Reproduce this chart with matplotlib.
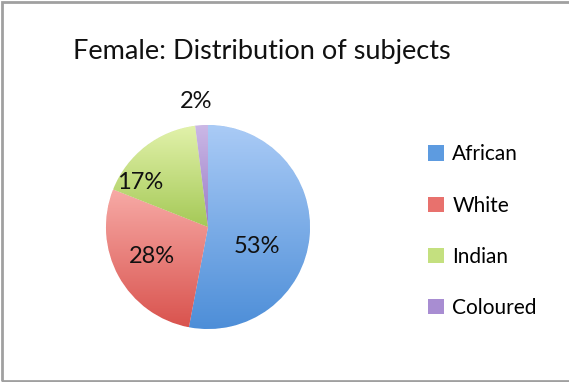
import numpy as np
import matplotlib
matplotlib.use("Agg")
import matplotlib.pyplot as plt
from matplotlib.colors import LinearSegmentedColormap
from matplotlib.patches import Patch, Rectangle

plt.rcParams['font.family'] = ['Lato', 'DejaVu Sans']

# Data
groups = ['African', 'White', 'Indian', 'Coloured']
shares = [53, 28, 17, 2]

# Gradient fill per slice (top colour, bottom colour) and legend swatch colour
top_cols = ['#aacbf6', '#f7aaa6', '#e2f2ab', '#cbb8e6']
bot_cols = ['#4d8ed8', '#d9534e', '#a5c957', '#9a7cc6']
key_cols = ['#5d9be0', '#e8716d', '#c4e07f', '#a88dd2']

# label placement: radial distance and angular nudge (deg) from slice middle
lab_dist = [0.52, 0.62, 0.79, 1.24]
lab_nudge = [-16.6, -1.0, 19.0, 1.8]

fig = plt.figure(figsize=(5.69, 3.82), dpi=100)

# frame around the chart area
fig.patches.append(Rectangle((2 / 569, 1.5 / 382), 1.2, 1 - 3.5 / 382,
                             transform=fig.transFigure, fill=False,
                             edgecolor='#a0a0a0', linewidth=2.0))

cx, cy, r_px = 208, 227, 102
half = 112
ax = fig.add_axes([(cx - half) / 569, (382 - cy - half) / 382,
                   2 * half / 569, 2 * half / 382])

wedges, _ = ax.pie(shares, startangle=90, counterclock=False, radius=1.0,
                   wedgeprops=dict(linewidth=0.6, edgecolor='white'))

grad = np.linspace(0, 1, 256).reshape(-1, 1)
for w, c0, c1 in zip(wedges, top_cols, bot_cols):
    w.set_facecolor(c1)
    bb = w.get_path().get_extents()
    cmap = LinearSegmentedColormap.from_list('g', [c1, c0])
    im = ax.imshow(grad, extent=[bb.x0, bb.x1, bb.y0, bb.y1], origin='lower',
                   cmap=cmap, aspect='auto', zorder=w.get_zorder() + 0.1)
    im.set_clip_path(w)

for w, val, d, nud in zip(wedges, shares, lab_dist, lab_nudge):
    mid = np.deg2rad((w.theta1 + w.theta2) / 2 + nud)
    ax.text(d * np.cos(mid), d * np.sin(mid), f'{val}%', ha='center',
            va='center', fontsize=17, color='#111111', zorder=5)

lim = half / r_px
ax.set_xlim(-lim, lim)
ax.set_ylim(-lim, lim)
ax.set_aspect('equal')
ax.axis('off')

fig.text(262 / 569, 1 - 51 / 382, 'Female: Distribution of subjects',
         ha='center', va='center', fontsize=19.5, color='#111111')

handles = [Patch(facecolor=c, edgecolor='none') for c in key_cols]
fig.legend(handles, groups, loc='upper left',
           bbox_to_anchor=(420 / 569, 1 - 136 / 382), frameon=False,
           fontsize=15, handlelength=0.75, handleheight=0.75,
           handletextpad=0.4, labelspacing=1.5, borderaxespad=0)

fig.savefig('out.png', dpi=100, facecolor='white')
